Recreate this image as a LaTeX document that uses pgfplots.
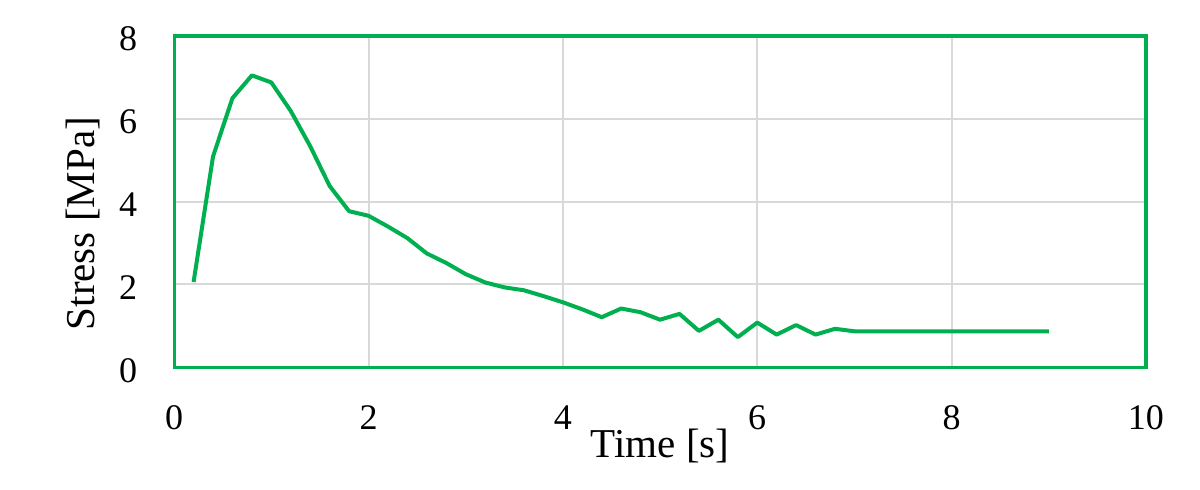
\documentclass[border=0pt]{standalone}
\usepackage{fontspec}
\setmainfont{Liberation Serif}
\usepackage{pgfplots}
\pgfplotsset{compat=1.18}

\definecolor{xlgreen}{RGB}{0,176,80}
\definecolor{gridgray}{RGB}{217,217,217}

\begin{document}
\begin{tikzpicture}
  % fixed page size: 1200x489 px at 0.5pt per px
  \useasboundingbox (-87pt,-61pt) rectangle (512.5pt,183.5pt);
  \begin{axis}[
      at={(0,0)}, anchor=south west,
      scale only axis,
      width=485.5pt, height=165.5pt,
      xmin=0, xmax=10, ymin=0, ymax=8,
      xtick={0,2,...,10}, ytick={0,2,...,8},
      major tick length=0pt,
      grid=major,
      major grid style={gridgray, line width=1pt},
      axis line style={xlgreen, line width=1.6pt},
      /pgf/number format/assume math mode=true,
      ticklabel style={font=\fontsize{18}{20}\selectfont},
      xticklabel style={anchor=center, yshift=-25pt},
      yticklabel style={anchor=center, xshift=-23pt, yshift=-1.5pt},
      xlabel={Time [s]},
      ylabel={Stress [MPa]},
      label style={font=\fontsize{20.5}{24}\selectfont},
      xlabel style={at={(axis description cs:0.5,-0.239)}, anchor=center},
      ylabel style={at={(axis description cs:-0.094,0.434)}, anchor=center, rotate=0},
    ]
    \addplot[xlgreen, line width=2pt, line join=round] table {
      x    y
      0.2  2.06
      0.4  5.09
      0.6  6.50
      0.8  7.05
      1.0  6.88
      1.2  6.19
      1.4  5.34
      1.6  4.38
      1.8  3.77
      2.0  3.66
      2.2  3.40
      2.4  3.12
      2.6  2.75
      2.8  2.52
      3.0  2.25
      3.2  2.05
      3.4  1.93
      3.6  1.86
      3.8  1.72
      4.0  1.57
      4.2  1.40
      4.4  1.21
      4.6  1.42
      4.8  1.33
      5.0  1.15
      5.2  1.29
      5.4  0.88
      5.6  1.15
      5.8  0.73
      6.0  1.08
      6.2  0.79
      6.4  1.02
      6.6  0.79
      6.8  0.93
      7.0  0.87
      7.5  0.87
      8.0  0.87
      8.5  0.87
      9.0  0.87
    };
    \draw[xlgreen, line width=2.4pt] (rel axis cs:0,1) -- (rel axis cs:1,1);
  \end{axis}
\end{tikzpicture}
\end{document}
